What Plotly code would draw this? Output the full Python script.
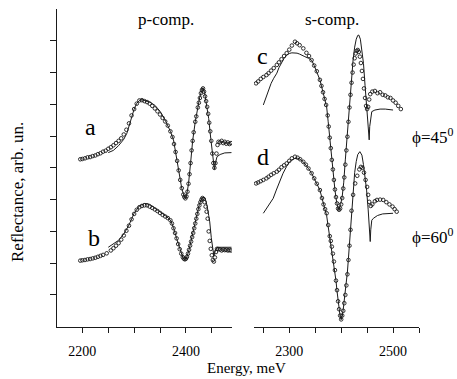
import plotly.graph_objects as go

W, H = 457, 379

# ---------------- data (energy in meV, reflectance in arb. units) ----------------
a_E = [2196, 2200, 2205, 2210, 2215, 2220, 2225, 2230, 2235, 2240, 2245, 2250, 2255, 2260, 2265, 2270,
       2275, 2280, 2285, 2290, 2295, 2300, 2305, 2310, 2315, 2320, 2325, 2330, 2335, 2340, 2345, 2350,
       2355, 2360, 2365, 2370, 2374, 2377, 2380, 2383, 2386, 2389, 2392, 2395, 2397, 2399, 2401, 2403,
       2405, 2407, 2409, 2411, 2413, 2415, 2418, 2420, 2423, 2425, 2427, 2429, 2431, 2433, 2435, 2437,
       2439, 2441, 2443, 2445, 2447, 2449, 2451, 2453, 2455, 2457, 2459, 2461, 2463, 2466, 2469, 2472,
       2475, 2478, 2481, 2484, 2487]
a_R = [5.27, 5.28, 5.30, 5.33, 5.34, 5.37, 5.39, 5.43, 5.46, 5.51, 5.54, 5.60, 5.65, 5.71, 5.78, 5.85,
       5.93, 6.05, 6.20, 6.40, 6.65, 6.85, 7.02, 7.12, 7.13, 7.10, 7.07, 7.02, 6.95, 6.87, 6.78, 6.68,
       6.57, 6.46, 6.33, 6.15, 5.97, 5.75, 5.50, 5.22, 4.92, 4.62, 4.36, 4.16, 4.08, 4.04, 4.10, 4.25,
       4.50, 4.80, 5.15, 5.55, 5.85, 6.12, 6.45, 6.62, 6.90, 7.05, 7.20, 7.35, 7.45, 7.50, 7.40, 7.25,
       7.10, 6.92, 6.70, 6.42, 6.15, 5.85, 5.45, 5.15, 5.00, 5.15, 5.45, 5.72, 5.82, 5.80, 5.85, 5.78,
       5.82, 5.76, 5.80, 5.75, 5.78]

a_fit_E = [2250, 2260, 2270, 2280, 2286, 2290, 2295, 2300, 2305, 2310, 2315, 2320, 2330, 2340, 2350,
           2360, 2370, 2376, 2380, 2386, 2392, 2397, 2399, 2401, 2405, 2409, 2413, 2418, 2423, 2427,
           2431, 2433, 2436, 2440, 2444, 2448, 2451, 2453, 2455, 2457, 2460, 2466, 2475, 2488]
a_fit_R = [5.48, 5.55, 5.70, 5.90, 6.09, 6.30, 6.60, 6.85, 7.03, 7.12, 7.15, 7.12, 7.07, 6.97, 6.78,
           6.50, 6.15, 5.88, 5.52, 4.90, 4.35, 4.08, 4.04, 4.10, 4.50, 5.15, 5.85, 6.45, 6.95, 7.25,
           7.45, 7.52, 7.38, 7.00, 6.55, 5.92, 5.40, 5.10, 4.95, 5.15, 5.35, 5.42, 5.47, 5.48]

b_E = [2196, 2200, 2205, 2210, 2215, 2220, 2225, 2230, 2235, 2240, 2247, 2255, 2260, 2265, 2270, 2275,
       2280, 2285, 2290, 2295, 2300, 2305, 2310, 2315, 2320, 2325, 2330, 2335, 2340, 2345, 2350, 2355,
       2360, 2365, 2370, 2373, 2376, 2379, 2382, 2385, 2388, 2391, 2394, 2396, 2398, 2400, 2402, 2404,
       2406, 2408, 2410, 2412, 2414, 2416, 2418, 2420, 2422, 2424, 2426, 2428, 2430, 2432, 2434, 2436,
       2438, 2440, 2442, 2444, 2446, 2448, 2450, 2452, 2454, 2456, 2458, 2460, 2463, 2466, 2469, 2472,
       2475, 2478, 2481, 2484, 2487]
b_R = [2.08, 2.09, 2.10, 2.12, 2.13, 2.15, 2.17, 2.20, 2.23, 2.26, 2.31, 2.40, 2.47, 2.55, 2.63, 2.74,
       2.87, 3.02, 3.18, 3.38, 3.55, 3.68, 3.76, 3.80, 3.82, 3.82, 3.78, 3.74, 3.69, 3.64, 3.58, 3.52,
       3.47, 3.42, 3.35, 3.25, 3.10, 2.95, 2.78, 2.60, 2.44, 2.30, 2.19, 2.14, 2.12, 2.14, 2.20, 2.30,
       2.42, 2.55, 2.68, 2.82, 2.95, 3.10, 3.25, 3.40, 3.55, 3.70, 3.82, 3.92, 4.00, 4.05, 4.02, 3.92,
       3.78, 3.62, 3.40, 3.00, 2.70, 2.45, 2.25, 2.10, 2.05, 2.18, 2.35, 2.45, 2.44, 2.43, 2.40, 2.43,
       2.41, 2.42, 2.40, 2.41, 2.40]

b_fit_E = [2250, 2260, 2270, 2280, 2290, 2300, 2310, 2320, 2330, 2340, 2350, 2360, 2370, 2376, 2382,
           2388, 2394, 2398, 2402, 2406, 2410, 2414, 2418, 2422, 2426, 2430, 2433, 2437, 2441, 2444,
           2446, 2449, 2452, 2454, 2457, 2460, 2470, 2488]
b_fit_R = [2.50, 2.60, 2.72, 2.92, 3.20, 3.57, 3.80, 3.88, 3.85, 3.73, 3.62, 3.50, 3.36, 3.12, 2.78,
           2.44, 2.18, 2.12, 2.20, 2.42, 2.70, 2.98, 3.28, 3.58, 3.85, 4.02, 4.07, 4.05, 3.80, 3.50,
           3.30, 2.80, 2.40, 2.22, 2.40, 2.50, 2.50, 2.50]

c_E = [2236, 2240, 2245, 2250, 2256, 2260, 2265, 2270, 2276, 2280, 2285, 2290, 2295, 2300, 2305, 2311,
       2315, 2320, 2327, 2333, 2338, 2343, 2348, 2353, 2359, 2362, 2365, 2368, 2371, 2374, 2376, 2378,
       2380, 2382, 2384, 2386, 2388, 2390, 2392, 2394, 2396, 2398, 2400, 2402, 2404, 2406, 2408, 2410,
       2412, 2414, 2416, 2418, 2420, 2422, 2424, 2426, 2428, 2430, 2432, 2434, 2436, 2438, 2440, 2442,
       2444, 2446, 2448, 2450, 2452, 2454, 2456, 2460, 2465, 2470, 2475, 2480, 2485, 2490, 2495, 2500,
       2505, 2510, 2515]
c_R = [7.66, 7.72, 7.80, 7.86, 7.92, 7.98, 8.06, 8.14, 8.24, 8.32, 8.42, 8.52, 8.61, 8.72, 8.85, 8.97,
       8.92, 8.86, 8.76, 8.62, 8.52, 8.39, 8.22, 8.04, 7.77, 7.58, 7.38, 7.17, 6.98, 6.65, 6.30, 5.95,
       5.62, 5.25, 4.95, 4.62, 4.32, 4.08, 3.88, 3.72, 3.68, 3.72, 3.85, 4.05, 4.35, 4.70, 5.10, 5.55,
       5.98, 6.45, 6.90, 7.30, 7.68, 8.00, 8.25, 8.45, 8.60, 8.68, 8.71, 8.65, 8.50, 8.30, 8.05, 7.80,
       7.50, 7.20, 6.95, 6.85, 6.92, 7.15, 7.32, 7.40, 7.42, 7.35, 7.38, 7.30, 7.28, 7.22, 7.20, 7.12,
       7.05, 6.95, 6.85]

c_fit_E = [2250, 2255, 2260, 2265, 2270, 2276, 2280, 2285, 2290, 2295, 2300, 2305, 2310, 2315, 2320,
           2325, 2330, 2337, 2343, 2348, 2353, 2359, 2364, 2368, 2372, 2375, 2378, 2382, 2385, 2388,
           2391, 2394, 2396, 2399, 2402, 2405, 2408, 2411, 2414, 2417, 2420, 2423, 2426, 2429, 2432,
           2434, 2437, 2440, 2443, 2446, 2449, 2451, 2453, 2454, 2455, 2457, 2459, 2465, 2475, 2485,
           2493, 2500]
c_fit_R = [6.98, 7.22, 7.45, 7.66, 7.82, 7.98, 8.15, 8.30, 8.45, 8.55, 8.60, 8.62, 8.62, 8.61, 8.58,
           8.55, 8.50, 8.45, 8.39, 8.22, 8.04, 7.77, 7.45, 7.17, 6.92, 6.45, 5.92, 5.25, 4.75, 4.30,
           3.95, 3.72, 3.70, 3.85, 4.10, 4.55, 5.25, 5.90, 6.65, 7.30, 7.90, 8.40, 8.80, 9.05, 9.17,
           9.18, 9.05, 8.70, 8.29, 7.60, 6.92, 6.65, 6.30, 5.88, 6.30, 6.60, 6.77, 6.82, 6.85, 6.85,
           6.83, 6.82]

d_E = [2236, 2240, 2245, 2250, 2256, 2260, 2265, 2270, 2276, 2280, 2285, 2290, 2295, 2300, 2305, 2311,
       2316, 2321, 2327, 2332, 2337, 2343, 2348, 2353, 2359, 2363, 2366, 2369, 2372, 2375, 2378, 2380,
       2382, 2384, 2386, 2388, 2390, 2392, 2394, 2396, 2398, 2400, 2402, 2404, 2406, 2408, 2410, 2412,
       2414, 2416, 2418, 2420, 2423, 2427, 2431, 2435, 2438, 2441, 2444, 2447, 2450, 2452, 2454, 2457,
       2460, 2465, 2469, 2475, 2481, 2487, 2493, 2499, 2503, 2507]
d_R = [4.51, 4.54, 4.58, 4.62, 4.67, 4.72, 4.78, 4.83, 4.88, 4.94, 5.02, 5.08, 5.14, 5.22, 5.30, 5.35,
       5.32, 5.27, 5.19, 5.10, 4.98, 4.83, 4.67, 4.50, 4.30, 4.05, 3.85, 3.70, 3.57, 3.20, 2.85, 2.70,
       2.52, 2.30, 2.05, 1.78, 1.45, 1.15, 0.80, 0.55, 0.35, 0.23, 0.35, 0.50, 0.74, 1.00, 1.30, 1.65,
       2.10, 2.55, 3.05, 3.65, 4.15, 4.51, 4.75, 4.95, 5.03, 5.00, 4.85, 4.62, 4.40, 4.15, 3.93, 3.80,
       3.85, 3.95, 3.99, 4.00, 3.99, 3.92, 3.85, 3.78, 3.70, 3.62]

d_fit_E = [2250, 2255, 2260, 2265, 2269, 2275, 2280, 2285, 2288, 2295, 2300, 2305, 2310, 2316, 2321,
           2327, 2332, 2337, 2343, 2348, 2353, 2359, 2363, 2366, 2369, 2372, 2375, 2378, 2380, 2382,
           2384, 2386, 2388, 2390, 2392, 2394, 2396, 2398, 2400, 2402, 2404, 2406, 2408, 2410, 2412,
           2414, 2416, 2418, 2420, 2423, 2426, 2429, 2432, 2436, 2440, 2443, 2446, 2449, 2452, 2454,
           2456, 2457, 2459, 2462, 2470, 2480, 2490, 2500]
d_fit_R = [3.57, 3.70, 3.80, 3.93, 4.04, 4.30, 4.52, 4.72, 4.83, 5.05, 5.18, 5.25, 5.29, 5.30, 5.27,
           5.19, 5.10, 4.98, 4.83, 4.67, 4.50, 4.30, 4.05, 3.85, 3.65, 3.50, 3.15, 2.80, 2.62, 2.45,
           2.25, 2.02, 1.75, 1.45, 1.12, 0.80, 0.52, 0.32, 0.22, 0.33, 0.55, 0.80, 1.08, 1.38, 1.72,
           2.15, 2.62, 3.15, 3.70, 4.35, 4.85, 5.20, 5.42, 5.51, 5.40, 5.10, 4.70, 4.30, 3.70, 3.10,
           2.68, 3.05, 3.35, 3.41, 3.50, 3.55, 3.57, 3.57]

left_major = [2200, 2400]
left_minor = [2150, 2250, 2300, 2350, 2450]
right_major = [2300, 2500]
right_minor = [2250, 2350, 2400, 2450, 2550]
y_ticks = [1, 2, 3, 4, 5, 6, 7, 8, 9]

FONT = "Liberation Serif"
INK = "#1a1a1a"


def P(px, py):
    return px / W, 1 - py / H


fig = go.Figure()


def add_pair(E, R, fE, fR, xa, ya):
    fig.add_trace(go.Scatter(x=fE, y=fR, mode="lines", xaxis=xa, yaxis=ya,
                             line=dict(color=INK, width=1), hoverinfo="skip"))
    fig.add_trace(go.Scatter(x=E, y=R, mode="markers", xaxis=xa, yaxis=ya,
                             marker=dict(symbol="circle-open", size=3.6, color=INK,
                                         line=dict(width=0.9, color=INK))))


add_pair(a_E, a_R, a_fit_E, a_fit_R, "x", "y")
add_pair(b_E, b_R, b_fit_E, b_fit_R, "x", "y")
add_pair(c_E, c_R, c_fit_E, c_fit_R, "x2", "y2")
add_pair(d_E, d_R, d_fit_E, d_fit_R, "x2", "y2")

ydom = [1 - 326.7 / H, 1 - 9 / H]
axfont = dict(family=FONT, size=14, color="black")


def xaxis_cfg(dom, rng, anchor, major, minor):
    return dict(domain=dom, range=rng, anchor=anchor,
                showline=True, linecolor=INK, linewidth=1.3, ticks="outside", ticklen=5,
                tickwidth=1.2, tickcolor=INK, tickvals=major,
                ticktext=[str(v) for v in major],
                minor=dict(tickvals=minor, ticks="outside", ticklen=5, tickwidth=1.2,
                           tickcolor=INK, showgrid=False),
                tickfont=axfont, showgrid=False, zeroline=False, ticklabelstandoff=6)


fig.update_layout(
    width=W, height=H, margin=dict(l=0, r=0, t=0, b=0),
    paper_bgcolor="white", plot_bgcolor="white", showlegend=False,
    xaxis=xaxis_cfg([57 / W, 232 / W], [2151, 2489], "y", left_major, left_minor),
    yaxis=dict(domain=ydom, range=[0, 10], anchor="x", showline=True, linecolor=INK,
               linewidth=1.3, ticks="outside", ticklen=6, tickwidth=1.2, tickcolor=INK,
               tickvals=y_ticks, showticklabels=False, showgrid=False, zeroline=False),
    xaxis2=xaxis_cfg([254 / W, 419 / W], [2232, 2550], "y2", right_major, right_minor),
    yaxis2=dict(domain=ydom, range=[0, 10], anchor="x2", visible=False),
)

labels = [
    ("p-comp.", 166, 19, 17, 0),
    ("s-comp.", 332, 19, 17, 0),
    ("a", 90, 127, 24, 0),
    ("b", 94, 238, 24, 0),
    ("c", 262, 56, 24, 0),
    ("d", 263, 157, 24, 0),
    ("\u03d5=45<sup>0</sup>", 433, 136, 17, 0),
    ("\u03d5=60<sup>0</sup>", 433, 236, 17, 0),
    ("Energy, meV", 246, 368, 15, 0),
    ("Reflectance, arb. un.", 17, 192, 17, -90),
]
for txt, px, py, fs, ang in labels:
    x, y = P(px, py)
    fig.add_annotation(x=x, y=y, xref="paper", yref="paper", text=txt, showarrow=False,
                       xanchor="center", yanchor="middle", textangle=ang,
                       font=dict(family=FONT, size=fs, color="black"))

fig.write_html("out.html")
